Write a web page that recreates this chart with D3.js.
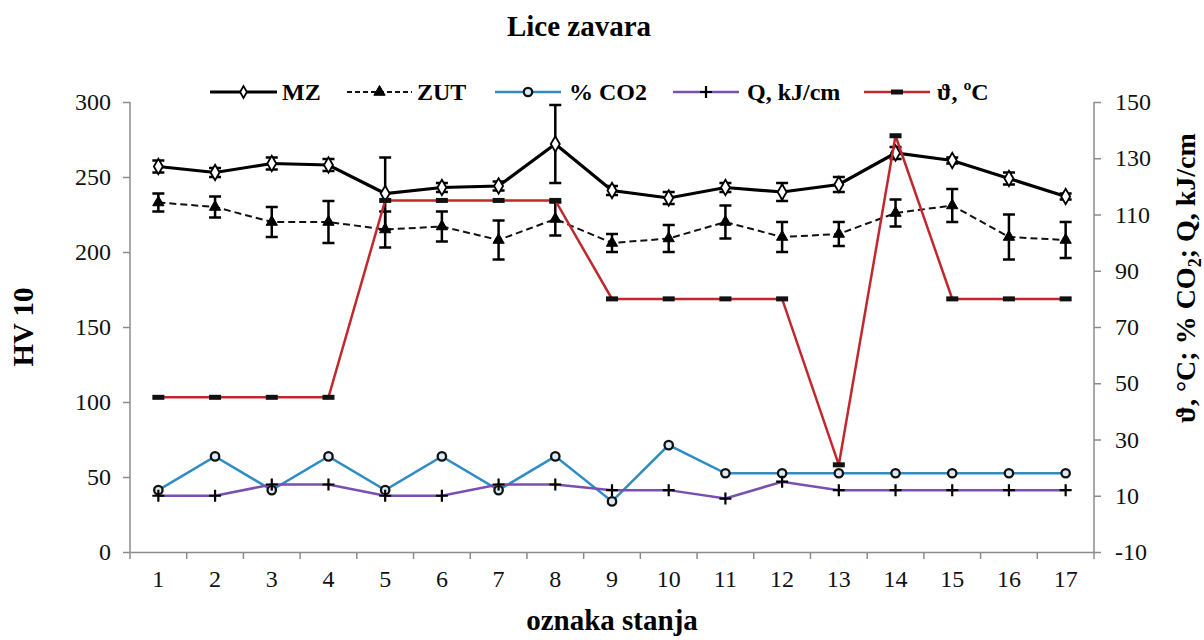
<!DOCTYPE html>
<html>
<head>
<meta charset="utf-8">
<script src="https://cdn.jsdelivr.net/npm/d3@7/dist/d3.min.js"></script>
<style>
  html, body { margin: 0; padding: 0; background: #fff; }
</style>
</head>
<body>
<svg id="chart" width="1204" height="640"></svg>
<script>
const categories = ["1","2","3","4","5","6","7","8","9","10","11","12","13","14","15","16","17"];
const mzValues  = [257,253,259,258,239,243,244,272,241,236,243,240,245,266,261,249,237];
const mzErr     = [4,3,4,4,24,3,3,26,3,4,3,6,5,4,2,4,2];
const zutValues = [233,230,220,220,215,217,208,222,206,209,220,210,212,226,231,210,208];
const zutErr    = [6,7,10,14,12,10,13,11,6,9,11,10,8,9,11,15,12];
const co2Values = [12,24,12,24,12,24,12,24,8,28,18,18,18,18,18,18,18];
const qValues   = [10,10,14,14,10,10,14,14,12,12,9,15,12,12,12,12,12];
const tempValues= [45,45,45,45,115,115,115,115,80,80,80,80,21,138,80,80,80];
const leftTicks  = [0,50,100,150,200,250,300];
const rightTicks = [-10,10,30,50,70,90,110,130,150];
const seriesNames = ["MZ","ZUT","% CO2","Q, kJ/cm","\u03D1, \u00BAC"];

const FONT = "'Liberation Serif', 'Times New Roman', serif";
const svg = d3.select("#chart").attr("font-family", FONT);
const L = 130, R = 1094, T = 102, B = 552;
const axisColor = "#8c8c8c";

const x = d3.scaleBand().domain(categories).range([L, R]).padding(0);
const cx = c => x(c) + x.bandwidth() / 2;
const yL = d3.scaleLinear().domain([0, 300]).range([B, T]);
const yR = d3.scaleLinear().domain([-10, 150]).range([B, T]);

// Title
svg.append("text").attr("x", 579).attr("y", 36).attr("text-anchor", "middle")
  .attr("font-family", FONT).attr("font-size", 29).attr("font-weight", "bold").text("Lice zavara");

// Axes
const gL = svg.append("g").attr("transform", `translate(${L},0)`)
  .call(d3.axisLeft(yL).tickValues(leftTicks).tickFormat(d => String(d)).tickSize(7).tickPadding(12));
const gR = svg.append("g").attr("transform", `translate(${R},0)`)
  .call(d3.axisRight(yR).tickValues(rightTicks).tickFormat(d => String(d)).tickSize(7).tickPadding(14));
const gX = svg.append("g").attr("transform", `translate(0,${B})`)
  .call(d3.axisBottom(x).tickSize(0).tickPadding(18));
gX.selectAll(".bt").data(d3.range(categories.length + 1)).enter().append("line")
  .attr("x1", i => L + i * x.bandwidth()).attr("x2", i => L + i * x.bandwidth())
  .attr("y1", 0).attr("y2", 7).attr("stroke", axisColor).attr("stroke-width", 1.5);

[gL, gR, gX].forEach(g => {
  g.attr("font-family", FONT).attr("font-size", 24);
  g.select(".domain").attr("stroke", axisColor).attr("stroke-width", 1.5);
  g.selectAll(".tick line").attr("stroke", axisColor).attr("stroke-width", 1.5);
  g.selectAll(".tick text").attr("font-family", FONT).attr("font-size", 24).attr("fill", "#111");
});
gR.select(".domain").attr("d", `M0,${B}V${T}`);
gL.select(".domain").attr("d", `M0,${B}V${T}`);

// axis titles
svg.append("text").attr("transform", `translate(33,${(T+B)/2}) rotate(-90)`)
  .attr("text-anchor", "middle").attr("font-family", FONT).attr("font-size", 29).attr("font-weight", "bold").text("HV 10");
const rt = svg.append("text").attr("transform", `translate(1195,278) rotate(-90)`)
  .attr("text-anchor", "middle").attr("font-family", FONT).attr("font-size", 28).attr("font-weight", "bold");
rt.append("tspan").text("\u03D1, \u00B0C; % CO");
rt.append("tspan").attr("font-size", 18).attr("dy", 6).text("2");
rt.append("tspan").attr("dy", -6).text("; Q, kJ/cm");
svg.append("text").attr("x", 612).attr("y", 630).attr("text-anchor", "middle")
  .attr("font-family", FONT).attr("font-size", 29).attr("font-weight", "bold").text("oznaka stanja");

// marker drawers
function diamond(g, px, py, s) {
  g.append("path").attr("d", d3.symbol(d3.symbolDiamond, s || 70)()).attr("transform", `translate(${px},${py})`)
    .attr("fill", "#fff").attr("stroke", "#000").attr("stroke-width", 1.8);
}
function triangle(g, px, py) {
  g.append("path").attr("d", d3.symbol(d3.symbolTriangle, 55)()).attr("transform", `translate(${px},${py})`)
    .attr("fill", "#000").attr("stroke", "#000").attr("stroke-width", 1);
}
function circle(g, px, py) {
  g.append("circle").attr("cx", px).attr("cy", py).attr("r", 4.2)
    .attr("fill", "#dbeaf5").attr("stroke", "#111").attr("stroke-width", 2.3);
}
function plus(g, px, py) {
  g.append("path").attr("d", `M${px-6},${py}H${px+6}M${px},${py-6}V${py+6}`)
    .attr("stroke", "#000").attr("stroke-width", 2.2);
}
function dash(g, px, py) {
  g.append("rect").attr("x", px-6).attr("y", py-2.5).attr("width", 12).attr("height", 5).attr("fill", "#111");
}

const line = (yScale, vals) => d3.line().x((d, i) => cx(categories[i])).y(d => yScale(d))(vals);

function errorBars(g, vals, errs) {
  vals.forEach((v, i) => {
    const px = cx(categories[i]);
    const y1 = yL(v + errs[i]), y2 = yL(v - errs[i]);
    g.append("path").attr("d", `M${px},${y1}V${y2}M${px-6},${y1}H${px+6}M${px-6},${y2}H${px+6}`)
      .attr("stroke", "#000").attr("stroke-width", 2.5).attr("fill", "none");
  });
}

// ZUT
const gZ = svg.append("g");
errorBars(gZ, zutValues, zutErr);
gZ.append("path").attr("d", line(yL, zutValues)).attr("fill", "none").attr("stroke", "#111")
  .attr("stroke-width", 2).attr("stroke-dasharray", "7,4");
zutValues.forEach((v, i) => triangle(gZ, cx(categories[i]), yL(v)));

// MZ
const gM = svg.append("g");
errorBars(gM, mzValues, mzErr);
gM.append("path").attr("d", line(yL, mzValues)).attr("fill", "none").attr("stroke", "#000").attr("stroke-width", 3.2);
mzValues.forEach((v, i) => diamond(gM, cx(categories[i]), yL(v)));

// CO2
const gC = svg.append("g");
gC.append("path").attr("d", line(yR, co2Values)).attr("fill", "none").attr("stroke", "#2f8cc4").attr("stroke-width", 2.5);
co2Values.forEach((v, i) => circle(gC, cx(categories[i]), yR(v)));

// Q
const gQ = svg.append("g");
gQ.append("path").attr("d", line(yR, qValues)).attr("fill", "none").attr("stroke", "#7b4fb0").attr("stroke-width", 2.5);
qValues.forEach((v, i) => plus(gQ, cx(categories[i]), yR(v)));

// Temperature
const gT = svg.append("g");
gT.append("path").attr("d", line(yR, tempValues)).attr("fill", "none").attr("stroke", "#c0282d").attr("stroke-width", 2.5);
tempValues.forEach((v, i) => dash(gT, cx(categories[i]), yR(v)));

// Legend
const legendY = 92;
const legendItems = [
  {x0: 210, x1: 277, tx: 282, color: "#000", width: 3.2, dashArr: null, marker: (g,a,b) => diamond(g,a,b,40)},
  {x0: 347, x1: 412, tx: 417, color: "#111", width: 2, dashArr: "5,3", marker: triangle},
  {x0: 495, x1: 561, tx: 569, color: "#2f8cc4", width: 2.5, dashArr: null, marker: circle},
  {x0: 673, x1: 739, tx: 747, color: "#7b4fb0", width: 2.5, dashArr: null, marker: plus},
  {x0: 864, x1: 930, tx: 937, color: "#c0282d", width: 2.5, dashArr: null, marker: dash}
];
const gLeg = svg.append("g");
legendItems.forEach((it, i) => {
  gLeg.append("line").attr("x1", it.x0).attr("x2", it.x1).attr("y1", legendY).attr("y2", legendY)
    .attr("stroke", it.color).attr("stroke-width", it.width).attr("stroke-dasharray", it.dashArr);
  it.marker(gLeg, (it.x0 + it.x1) / 2, legendY);
  gLeg.append("text").attr("x", it.tx).attr("y", legendY + 8).attr("font-family", FONT).attr("font-size", 24)
    .attr("font-weight", "bold").text(seriesNames[i]);
});
</script>
</body>
</html>
